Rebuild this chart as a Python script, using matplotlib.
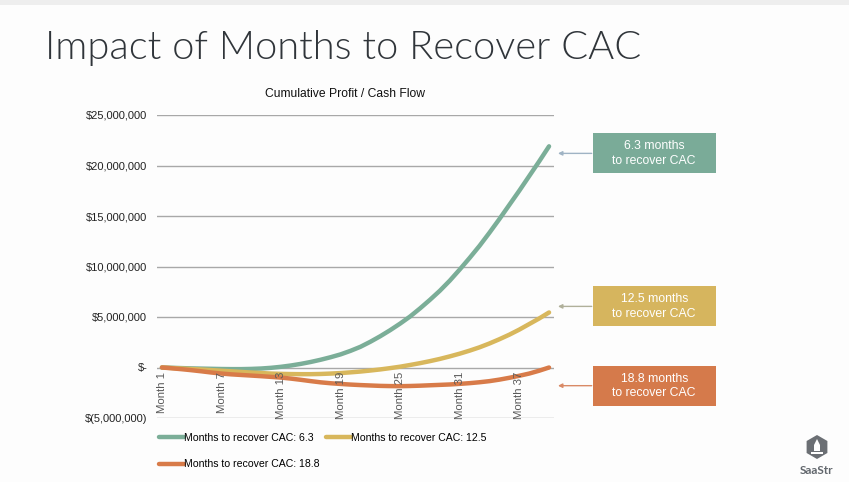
import matplotlib.pyplot as plt
from matplotlib.patches import Polygon, Rectangle, RegularPolygon
from matplotlib.ticker import FuncFormatter

# Кумулятивная прибыль по месяцам, млн $
months = [f'Month {i}' for i in range(1, 41)]

cac_63 = [0.0, -0.03, -0.06, -0.09, -0.11, -0.13, -0.15, -0.16, -0.16, -0.14,
          -0.10, -0.03, 0.07, 0.20, 0.36, 0.55, 0.77, 1.02, 1.30, 1.65,
          2.05, 2.55, 3.10, 3.70, 4.35, 5.05, 5.85, 6.70, 7.60, 8.60,
          9.70, 10.85, 12.05, 13.35, 14.70, 16.10, 17.50, 18.95, 20.40, 21.90]
cac_125 = [0.0, -0.05, -0.10, -0.15, -0.20, -0.26, -0.32, -0.38, -0.44, -0.50,
           -0.55, -0.60, -0.63, -0.65, -0.66, -0.66, -0.64, -0.60, -0.55, -0.48,
           -0.40, -0.30, -0.19, -0.06, 0.08, 0.25, 0.43, 0.63, 0.85, 1.10,
           1.37, 1.67, 2.00, 2.38, 2.80, 3.25, 3.75, 4.30, 4.85, 5.45]
cac_188 = [0.0, -0.08, -0.17, -0.27, -0.38, -0.50, -0.60, -0.68, -0.74, -0.80,
           -0.86, -0.93, -1.00, -1.10, -1.22, -1.35, -1.47, -1.56, -1.63, -1.69,
           -1.74, -1.78, -1.82, -1.84, -1.85, -1.83, -1.80, -1.76, -1.72, -1.68,
           -1.62, -1.55, -1.46, -1.35, -1.20, -1.02, -0.82, -0.60, -0.32, 0.0]

series = [
    ('Months to recover CAC: 6.3', cac_63, '#7bae98'),
    ('Months to recover CAC: 12.5', cac_125, '#d8b75c'),
    ('Months to recover CAC: 18.8', cac_188, '#d87b49'),
]
# подпись, уровень стрелки (млн), цвет плашки, цвет стрелки
callouts = [
    ('6.3 months\nto recover CAC', 21.2, '#7aab98', '#9fb3c4'),
    ('12.5 months\nto recover CAC', 6.05, '#d6b55e', '#b0b09a'),
    ('18.8 months\nto recover CAC', -1.8, '#d57a4b', '#d98a66'),
]

FONT = 'Liberation Sans'
W, H = 849, 482
fig = plt.figure(figsize=(W / 100, H / 100), dpi=100)
fig.patch.set_facecolor('#fdfdfd')
fig.patches.append(Rectangle((0, 1 - 5 / H), 1, 5 / H, transform=fig.transFigure,
                             facecolor='#eeeeee', edgecolor='none'))

ax = fig.add_axes([157 / W, 64 / H, 397 / W, 303 / H])
ax.set_facecolor('none')
x = list(range(len(months)))
lines = {}
for label, vals, color in series:
    lines[label], = ax.plot(x, [v * 1e6 for v in vals], color=color, lw=3.2,
                            solid_capstyle='round', label=label, zorder=3)

ax.set_xlim(-0.5, len(months) - 0.5)
ax.set_ylim(-5e6, 25e6)
ax.set_yticks([-5e6, 0, 5e6, 10e6, 15e6, 20e6, 25e6])


def money(v, pos):
    if v == 0:
        return '$-'
    if v < 0:
        return f'$({-v:,.0f})'
    return f'${v:,.0f}'


ax.yaxis.set_major_formatter(FuncFormatter(money))
ax.tick_params(axis='y', length=0, labelsize=8, labelcolor='#222222', pad=7)
for t in ax.get_yticklabels():
    t.set_family(FONT)
ax.grid(axis='y', color='#a8a8a8', lw=1)
for s in ax.spines.values():
    s.set_visible(False)
ax.set_xticks([])

# подписи месяцев под нулевой линией
for i in range(0, len(months), 6):
    ax.text(i, -0.4e6, months[i], rotation=90, ha='center', va='top',
            fontsize=8.2, color='#595959', family=FONT)

ax.set_title('Cumulative Profit / Cash Flow', fontsize=8.7, color='#111111',
             pad=13, x=0.474, family=FONT)

order = [series[0][0], series[2][0], series[1][0]]
ax.legend([lines[k] for k in order], order, loc='upper left',
          bbox_to_anchor=(-0.02, -0.018), ncol=2, frameon=False,
          prop={'family': FONT, 'size': 7.6}, handlelength=2.4, handletextpad=0.0,
          columnspacing=0.6, labelspacing=1.55)

fig.text(45 / W, 1 - 48 / H, 'Impact of Months to Recover CAC', fontsize=28.7,
         family='Lato', weight=300, color='#30353a', va='center')

# плашки справа со стрелками
box_cx, box_w, box_h = 49.6, 12.4, 3.95e6
for text, yval, fc, ac in callouts:
    cy = yval * 1e6
    ax.add_patch(Rectangle((box_cx - box_w / 2, cy - box_h / 2), box_w, box_h,
                           facecolor=fc, edgecolor='none', clip_on=False))
    ax.text(box_cx, cy, text, ha='center', va='center', fontsize=8.8,
            color='white', family=FONT, linespacing=1.25, clip_on=False)
    ax.annotate('', xy=(39.9, cy), xytext=(box_cx - box_w / 2 - 0.1, cy),
                annotation_clip=False,
                arrowprops=dict(arrowstyle='-|>', color=ac, lw=1,
                                mutation_scale=6, shrinkA=0, shrinkB=0))

# логотип SaaStr
logo = fig.add_axes([800 / W, 1 - 462 / H, 34 / W, 30 / H])
logo.set_xlim(-17, 17)
logo.set_ylim(-13, 17)
logo.set_aspect('equal')
logo.axis('off')
logo.add_patch(RegularPolygon((0, 2), 6, radius=12, orientation=0,
                              facecolor='#6b6f74', edgecolor='none'))
logo.add_patch(Polygon([(0, 10), (3, 4), (3, -2), (-3, -2), (-3, 4)],
                       facecolor='white', edgecolor='none'))
logo.add_patch(Rectangle((-6, -5), 12, 1.6, facecolor='white', edgecolor='none'))
fig.text(817 / W, 1 - 470 / H, 'SaaStr', ha='center', va='center', fontsize=8.5,
         weight='bold', color='#62676d', family='Lato')

fig.savefig('out.png', dpi=100, facecolor=fig.get_facecolor())
